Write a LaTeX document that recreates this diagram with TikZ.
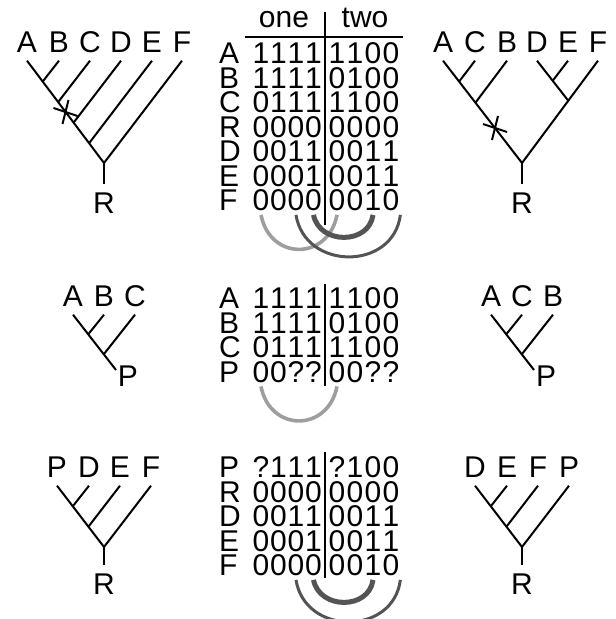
\documentclass[tikz,border=0pt]{standalone}
\usepackage{fontspec}
\setmainfont{Liberation Sans}

\definecolor{arcoclaro}{gray}{0.62}
\definecolor{arcooscuro}{gray}{0.33}

\begin{document}
\begin{tikzpicture}[x=0.5pt, y=-0.5pt, line width=1pt,
    every node/.style={font=\fontsize{15}{17}\selectfont, inner xsep=0pt, inner ysep=3.5pt, text height=10.7pt, text depth=0pt},
    celda/.style={inner ysep=0pt},
    regla/.style={line width=0.75pt},
    arcofino/.style={arcooscuro, line width=1.5pt},
    arcogrueso/.style={arcooscuro, line width=2.5pt},
    arcogris/.style={arcoclaro, line width=1.8pt}]
        \useasboundingbox (0,0) rectangle (615,619);

        % Arbol superior izquierdo
        \foreach \n/\x in {A/27,B/59,C/90,D/121,E/152,F/182}
            \node (tl\n) at (\x,42) {\n};
        \node (tlR) at (104,203) {R};
        \coordinate (tlr) at (104,163);
        \coordinate (tljB) at (42.9,81.3);
        \coordinate (tljC) at (58.3,101.9);
        \coordinate (tljD) at (73.7,122.5);
        \coordinate (tljE) at (89.2,143.1);
        \draw (tlA.south) -- (tlr) -- (tlF.south);
        \draw (tlr) -- (tlR.north);
        \foreach \n in {B,C,D,E}
            \draw (tl\n.south) -- (tlj\n);
        \coordinate (tlx) at (65.5,112);
        \draw (tlx) +(-12,-4) -- +(12,4) +(3,-12) -- +(-3,12);

        % Arbol superior derecho
        \foreach \n/\x in {A/443,C/475,B/507,D/537,E/568,F/598}
            \node (tr\n) at (\x,42) {\n};
        \node (trR) at (522,203) {R};
        \coordinate (trr) at (522,163);
        \coordinate (trjC) at (459.3,81.3);
        \coordinate (trjB) at (475.6,102.5);
        \coordinate (trjD) at (568.1,100.5);
        \coordinate (trjE) at (552.8,80.6);
        \draw (trA.south) -- (trr) -- (trF.south);
        \draw (trr) -- (trR.north);
        \foreach \n in {C,B,D,E}
            \draw (tr\n.south) -- (trj\n);
        \coordinate (trx) at (495,128);
        \draw (trx) +(-12,-4) -- +(12,4) +(3,-12) -- +(-3,12);

        % Arboles del medio (raiz P)
        \foreach \n/\x in {A/73,B/104,C/135}
            \node (ml\n) at (\x,296) {\n};
        \node (mlP) at (128,376) {P};
        \coordinate (mlfin) at (116,370);
        \coordinate (mljB) at (88.5,334);
        \coordinate (mljC) at (104,354);
        \draw (mlA.south) -- (mlfin);
        \foreach \n in {B,C}
            \draw (ml\n.south) -- (mlj\n);

        \foreach \n/\x in {A/491,C/522,B/553}
            \node (mr\n) at (\x,296) {\n};
        \node (mrP) at (546,376) {P};
        \coordinate (mrfin) at (534,370);
        \coordinate (mrjC) at (506.5,334);
        \coordinate (mrjB) at (522,354);
        \draw (mrA.south) -- (mrfin);
        \foreach \n in {C,B}
            \draw (mr\n.south) -- (mrj\n);

        % Arboles inferiores
        \foreach \n/\x in {P/57,D/89,E/120,F/151}
            \node (bl\n) at (\x,467) {\n};
        \node (blR) at (104,584) {R};
        \coordinate (blr) at (104,547);
        \coordinate (bljD) at (73,506);
        \coordinate (bljE) at (88.5,526.6);
        \draw (blP.south) -- (blr) -- (blF.south);
        \draw (blr) -- (blR.north);
        \foreach \n in {D,E}
            \draw (bl\n.south) -- (blj\n);

        \foreach \n/\x in {D/475,E/507,F/538,P/569}
            \node (br\n) at (\x,467) {\n};
        \node (brR) at (522,584) {R};
        \coordinate (brr) at (522,547);
        \coordinate (brjE) at (491,506);
        \coordinate (brjF) at (506.5,526.6);
        \draw (brD.south) -- (brr) -- (brP.south);
        \draw (brr) -- (brR.north);
        \foreach \n in {E,F}
            \draw (br\n.south) -- (brj\n);

        % Matrices de caracteres
        \node[celda, anchor=base] (uno) at (284,28) {one};
        \node[celda, anchor=base] (dos) at (365,28) {two};
        \draw[regla] (245,37) -- (403,37);
        \draw[regla] (325,12) -- (325,225);
        \draw[regla] (325,284) -- (325,386);
        \draw[regla] (325,452) -- (325,578);

        \foreach \m/\lab/\y/\ca/\cb/\cc/\cd/\ce/\cf/\cg/\ch in {
            t/A/53/1/1/1/1/1/1/0/0, t/B/77.5/1/1/1/1/0/1/0/0, t/C/102/0/1/1/1/1/1/0/0,
            t/R/126.5/0/0/0/0/0/0/0/0, t/D/151/0/0/1/1/0/0/1/1, t/E/175.5/0/0/0/1/0/0/1/1,
            t/F/200/0/0/0/0/0/0/1/0,
            m/A/298/1/1/1/1/1/1/0/0, m/B/322.5/1/1/1/1/0/1/0/0, m/C/347/0/1/1/1/1/1/0/0,
            m/P/371.5/0/0/?/?/0/0/?/?,
            b/P/467/?/1/1/1/?/1/0/0, b/R/491.5/0/0/0/0/0/0/0/0, b/D/516/0/0/1/1/0/0/1/1,
            b/E/540.5/0/0/0/1/0/0/1/1, b/F/565/0/0/0/0/0/0/1/0}
        {
            \node[celda, anchor=west] (\m\lab) at (218,\y) {\lab};
            \foreach \v/\x [count=\i] in {\ca/261,\cb/278.5,\cc/296,\cd/313.5,\ce/337,\cf/355,\cg/373,\ch/391}
                \node[celda] (\m\lab\i) at (\x,\y) {\v};
        }

        % Arcos entre columnas
        \draw[arcogris] ([yshift=-1.6pt]tF1.south) .. controls +(9,46) and +(-9,46) .. ([yshift=-1.6pt]tF5.south);
        \draw[arcofino] ([yshift=-1.6pt]tF3.south) .. controls +(9,56) and +(-7,56) .. ([yshift=-1.6pt]tF8.south east);
        \draw[arcogrueso] ([yshift=-1.6pt]tF4.south) .. controls +(6,30) and +(-4,30) .. ([yshift=-1.6pt]tF7.south);

        \draw[arcogris] ([yshift=-1.6pt]mP1.south) .. controls +(9,46) and +(-9,46) .. ([yshift=-1.6pt]mP5.south);

        \draw[arcofino] ([yshift=-1.6pt]bF3.south) .. controls +(9,56) and +(-7,56) .. ([yshift=-1.6pt]bF8.south east);
        \draw[arcogrueso] ([yshift=-1.6pt]bF4.south) .. controls +(6,30) and +(-4,30) .. ([yshift=-1.6pt]bF7.south);

    \end{tikzpicture}
\end{document}
